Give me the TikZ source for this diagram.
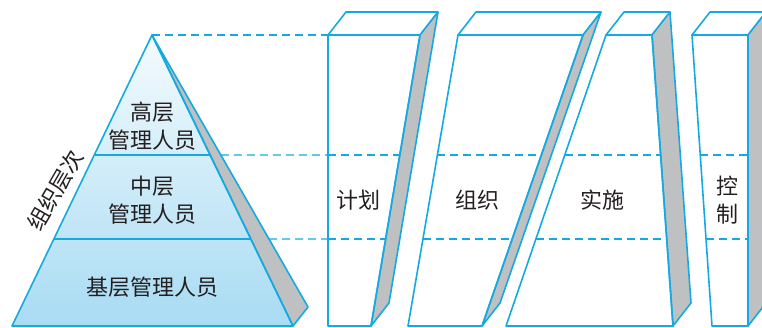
\documentclass[tikz,border=0pt]{standalone}
\usepackage{fontspec}
\newfontfamily\cjk{Noto Sans CJK SC}
\usetikzlibrary{calc}
\definecolor{lineblue}{RGB}{20,170,225}
\definecolor{sidegray}{RGB}{190,192,194}
\definecolor{txtgray}{RGB}{35,31,32}
\definecolor{tipblue}{RGB}{244,251,254}
\definecolor{baseblue}{RGB}{168,219,243}

\begin{document}
\begin{tikzpicture}[x=1pt,y=-1pt]
  \tikzset{edge/.style={draw=lineblue, line width=1.6pt, line join=round}}
  \tikzset{side/.style={edge, fill=sidegray}}
  \tikzset{guide/.style={lineblue, line width=1.2pt, dash pattern=on 8pt off 5pt}}
  \tikzset{lab/.style={font=\cjk\fontsize{22}{28}\selectfont, text=txtgray, align=center, inner sep=0pt}}
  \useasboundingbox (0,0) rectangle (762,327);
  \clip (0,0) rectangle (762,327);

  % pyramid
  \coordinate (ap) at (152,35);
  \coordinate (bl) at (12,326);
  \coordinate (br) at (293,326);
  \coordinate (sr) at (308,307);
  \shade[top color=tipblue, bottom color=baseblue] (ap) -- (bl) -- (br) -- cycle;
  \draw[side] (ap) -- (sr) -- (br) -- cycle;
  \draw[edge] (ap) -- (bl) -- (br) -- cycle;
  \draw[edge] ($(ap)!0.4124!(bl)$) -- ($(ap)!0.4124!(br)$);
  \draw[edge] ($(ap)!0.701!(bl)$) -- ($(ap)!0.701!(br)$);
  \node[lab] (upper) at (152,126) {高层\\管理人员};
  \node[lab] (middle) at (152,200) {中层\\管理人员};
  \node[lab] (lower) at (152,287) {基层管理人员};
  \node[lab, rotate=60] (levels) at (55,190) {组织层次};

  % guides from the pyramid
  \coordinate (start) at (328,35);
  \coordinate (foot) at (328,326);
  \draw[guide] (ap) -- (start);
  \draw[guide] ($(ap)!0.441!(sr)$) -- ($(start)!0.4124!(foot)$);
  \draw[guide] ($(ap)!0.75!(sr)$) -- ($(start)!0.701!(foot)$);

  % functions
  \foreach \n/\tl/\tr/\br/\bl/\t/\lx in {plan/{328,35}/{420,35}/{371,326}/{328,326}/计划/358,
      org/{458,35}/{583,35}/{482,326}/{408,326}/组织/477,
      act/{606,35}/{652,35}/{673,326}/{506,326}/实施/602,
      ctrl/{692,35}/{748,35}/{748,326}/{712,326}/{控\\制}/727} {
    \coordinate (\n tl) at (\tl);
    \coordinate (\n tr) at (\tr);
    \coordinate (\n br) at (\br);
    \coordinate (\n bl) at (\bl);
    \foreach \f in {0.4124,0.701}
      \draw[guide] ($(\n tl)!\f!(\n bl)$) -- ($(\n tr)!\f!(\n br)$);
    \draw[edge] (\n tl) -- (\n tr) -- ++(18,-23) -- ($(\n tl)+(18,-23)$) -- cycle;
    \draw[side] (\n tr) -- ++(18,-23) -- ($(\n br)+(18,-23)$) -- (\n br) -- cycle;
    \draw[edge] (\n tl) -- (\n tr) -- (\n br) -- (\n bl) -- cycle;
    \node[lab] (\n) at (\lx,200) {\t};
  }
\end{tikzpicture}
\end{document}
